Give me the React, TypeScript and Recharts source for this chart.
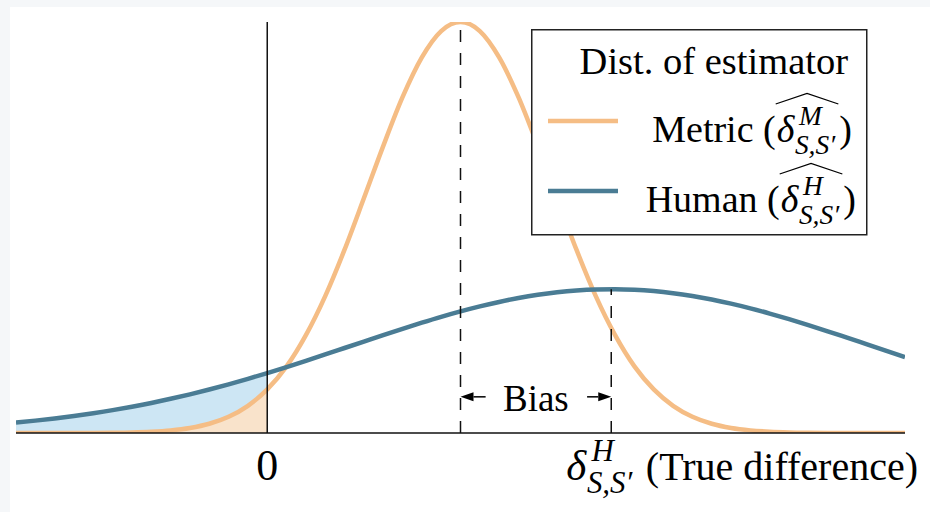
import React from 'react';
import { ComposedChart, Line, Area, XAxis, YAxis, ReferenceLine, ReferenceDot, Legend } from 'recharts';

// sample positions along the difference axis (0 = no difference)
const xs = [
  -1.3, -1.2, -1.1, -1.0, -0.9, -0.8, -0.7, -0.6, -0.5, -0.4, -0.3, -0.2, -0.1,
  0, 0.1, 0.2, 0.3, 0.4, 0.5, 0.6, 0.7, 0.8, 0.9, 1.0,
  1.1, 1.2, 1.3, 1.4, 1.5, 1.6, 1.7, 1.8, 1.9, 2.0, 2.1, 2.2, 2.3, 2.4, 2.5, 2.6,
  2.7, 2.8, 2.9, 3.0, 3.1, 3.2, 3.3,
];

// curve heights (metric peak = 1)
const metric = [
  0, 0, 0.0001, 0.0001, 0.0003, 0.0007, 0.0015, 0.0032, 0.0064, 0.0123, 0.0225, 0.0395, 0.0662,
  0.106, 0.162, 0.238, 0.333, 0.446, 0.571, 0.698, 0.817, 0.914, 0.978, 1.0,
  0.978, 0.914, 0.817, 0.698, 0.571, 0.446, 0.333, 0.238, 0.162, 0.106, 0.0662, 0.0395, 0.0225,
  0.0123, 0.0064, 0.0032, 0.0015, 0.0007, 0.0003, 0.0001, 0.0001, 0, 0,
];

const human = [
  0.0254, 0.0301, 0.0353, 0.0413, 0.0481, 0.0556, 0.064, 0.0731, 0.0832, 0.0941, 0.1058, 0.1184, 0.1318,
  0.1458, 0.1605, 0.1756, 0.1911, 0.2068, 0.2225, 0.2382, 0.2535, 0.2684, 0.2826, 0.2958,
  0.308, 0.3189, 0.3284, 0.3363, 0.3425, 0.3469, 0.3494, 0.35, 0.3486, 0.3453, 0.3402, 0.3333,
  0.3248, 0.3147, 0.3033, 0.2906, 0.277, 0.2625, 0.2475, 0.2319, 0.2162, 0.2005, 0.1848,
];

const metricMean = 1.0;
const humanMean = 1.78;
const humanPeak = 0.35;
const tickValues = [0, humanMean];

const series = [
  { key: 'metric', name: 'Metric', sup: 'M', color: '#F5BD85', fill: '#F9E3CB' },
  { key: 'human', name: 'Human', sup: 'H', color: '#4A7C94', fill: '#CDE6F4' },
];

const rows = xs.map((x, i) => ({
  x,
  metric: metric[i],
  human: human[i],
  metricTail: x <= 0 ? metric[i] : null,
  humanTail: x <= 0 ? human[i] : null,
}));

const SERIF = '"Liberation Serif", "Times New Roman", "DejaVu Serif", serif';

// delta with super/subscripts, optional wide hat; returns group and width
function deltaParts(left: number, y: number, fs: number, sup: string, hat: boolean) {
  const sfs = fs * 0.72;
  const dW = fs * 0.48;
  const subLeft = left + dW;
  const subW = sfs * 1.55;
  const right = subLeft + subW;
  const mid = (left + right) / 2;
  const el = (
    <g fontFamily={SERIF} fill="#000">
      <text x={left} y={y} fontSize={fs} fontStyle="italic">δ</text>
      <text x={subLeft + sfs * 0.15} y={y - fs * 0.44} fontSize={sfs} fontStyle="italic">{sup}</text>
      <text x={subLeft} y={y + fs * 0.31} fontSize={sfs} fontStyle="italic">S,S′</text>
      {hat && (
        <path
          d={`M${left - 1},${y - fs * 1.0} L${mid},${y - fs * 1.28} L${right + 1},${y - fs * 1.0}`}
          fill="none"
          stroke="#000"
          strokeWidth={1.3}
        />
      )}
    </g>
  );
  return { el, width: right - left };
}

const AxisTick = (props: any) => {
  const { x, y, payload } = props;
  const base = y + 47;
  if (payload.value === 0) {
    return (
      <text x={x} y={base} textAnchor="middle" fontFamily={SERIF} fontSize={44} fill="#000">0</text>
    );
  }
  const left = x - 45;
  const d = deltaParts(left, base, 43, 'H', false);
  return (
    <g>
      {d.el}
      <text x={left + d.width + 11} y={base} fontFamily={SERIF} fontSize={40} fill="#000">(True difference)</text>
    </g>
  );
};

const LegendBox = () => {
  const fs = 38;
  const rowsY = [143 - 30, 213 - 30];
  const rightEdges = [321, 325];
  return (
    <svg width={337} height={207} style={{ display: 'block' }}>
      <rect x={0.75} y={0.75} width={335} height={205} fill="#fff" stroke="#222" strokeWidth={1.5} />
      <text x={317} y={45} textAnchor="end" fontFamily={SERIF} fontSize={38.5} fill="#000">Dist. of estimator</text>
      {series.map((s, i) => {
        const y = rowsY[i];
        const R = rightEdges[i];
        const pw = fs * 0.333;
        const probe = deltaParts(0, y, fs, s.sup, true);
        const left = R - pw - 2 - probe.width;
        const d = deltaParts(left, y, fs, s.sup, true);
        return (
          <g key={s.key}>
            <line x1={17} x2={87} y1={y - 21} y2={y - 21} stroke={s.color} strokeWidth={4.5} />
            <text x={left - 1} y={y} textAnchor="end" fontFamily={SERIF} fontSize={fs} fill="#000">{`${s.name} (`}</text>
            {d.el}
            <text x={R} y={y} textAnchor="end" fontFamily={SERIF} fontSize={fs} fill="#000">)</text>
          </g>
        );
      })}
    </svg>
  );
};

const Arrow = (p: any) => {
  const { x1, y1, x2, y2 } = p;
  const dir = x2 > x1 ? 1 : -1;
  const head = 13;
  return (
    <g>
      <line x1={x1} y1={y1} x2={x2 - dir * head} y2={y2} stroke="#000" strokeWidth={1.5} />
      <path d={`M${x2},${y2} L${x2 - dir * head},${y2 - 4.5} L${x2 - dir * head},${y2 + 4.5} Z`} fill="#000" />
    </g>
  );
};

export default function App() {
  return (
    <div style={{ position: 'absolute', left: 0, top: 0, width: 930, height: 512, background: '#f5f7f9', overflow: 'hidden' }}>
      <div style={{ position: 'absolute', left: 10, top: 7, width: 920, height: 505, background: '#fff' }} />
      <div style={{ position: 'absolute', left: 0, top: 0 }}>
        <ComposedChart width={930} height={512} data={rows} margin={{ top: 22, right: 25, left: 16, bottom: 0 }}>
          <XAxis
            dataKey="x"
            type="number"
            domain={[-1.3, 3.3]}
            ticks={tickValues}
            interval={0}
            axisLine={false}
            tickLine={false}
            tickSize={0}
            tickMargin={0}
            height={79}
            tick={<AxisTick />}
            allowDataOverflow
          />
          <YAxis hide domain={[0, 1]} allowDataOverflow />
          <Legend
            verticalAlign="middle"
            align="center"
            layout="horizontal"
            content={<LegendBox />}
            wrapperStyle={{ position: 'absolute', left: 531, top: 29, width: 337, height: 207 }}
          />
          <Area type="monotone" dataKey="humanTail" stroke="none" fill={series[1].fill} fillOpacity={1} isAnimationActive={false} connectNulls={false} legendType="none" />
          <Area type="monotone" dataKey="metricTail" stroke="none" fill={series[0].fill} fillOpacity={1} isAnimationActive={false} connectNulls={false} legendType="none" />
          <Line type="monotone" dataKey="metric" name="Metric" stroke={series[0].color} strokeWidth={4.5} dot={false} isAnimationActive={false} />
          <Line type="monotone" dataKey="human" name="Human" stroke={series[1].color} strokeWidth={4.5} dot={false} isAnimationActive={false} />
          <ReferenceLine y={0} stroke="#111" strokeWidth={1.6} />
          <ReferenceLine x={0} stroke="#111" strokeWidth={1.5} />
          <ReferenceLine x={metricMean} stroke="#111" strokeWidth={1.5} strokeDasharray="12 11" />
          <ReferenceLine segment={[{ x: humanMean, y: 0 }, { x: humanMean, y: humanPeak }]} stroke="#111" strokeWidth={1.5} strokeDasharray="12 11" />
          <ReferenceLine segment={[{ x: 1.13, y: 0.088 }, { x: metricMean, y: 0.088 }]} shape={<Arrow />} />
          <ReferenceLine segment={[{ x: 1.655, y: 0.088 }, { x: humanMean, y: 0.088 }]} shape={<Arrow />} />
          <ReferenceDot
            x={1.39}
            y={0.085}
            r={0}
            fill="none"
            stroke="none"
            label={{ value: 'Bias', position: 'center', fontSize: 37, fontFamily: SERIF, fill: '#000' }}
          />
        </ComposedChart>
      </div>
    </div>
  );
}
